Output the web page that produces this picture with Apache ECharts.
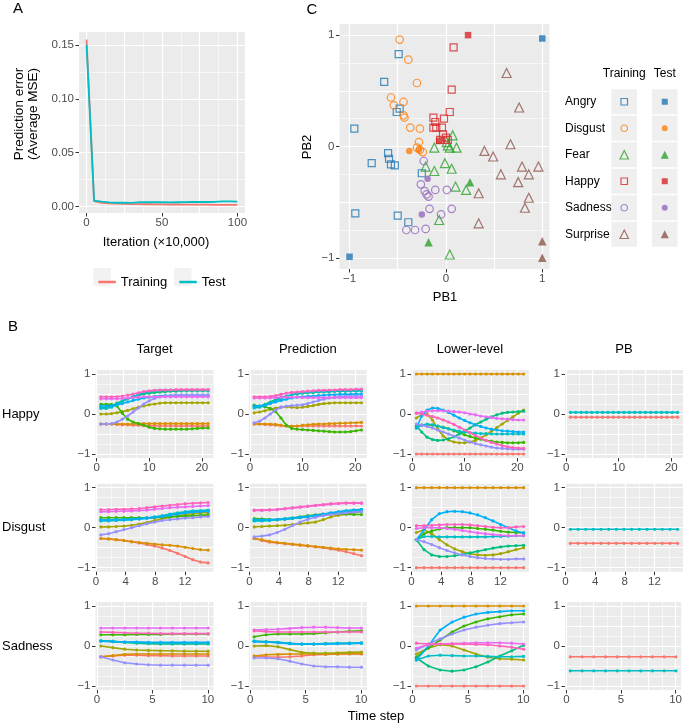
<!DOCTYPE html>
<html><head><meta charset="utf-8">
<script src="https://cdn.jsdelivr.net/npm/echarts@6/dist/echarts.min.js"></script>
<style>html,body{margin:0;padding:0;background:#fff}#c{width:685px;height:723px}</style>
</head><body><div id="c"></div><script>
// ---------------- Panel A data ----------------
const iterations = [0,5,10,15,20,25,30,35,40,45,50,55,60,65,70,75,80,85,90,95,100];
const mseTraining = [0.155,0.005,0.0035,0.003,0.0027,0.0025,0.0023,0.0022,0.0021,0.002,0.002,0.0019,0.0019,0.0018,0.0018,0.0017,0.0017,0.0016,0.0016,0.0016,0.0015];
const mseTest = [0.150,0.0055,0.0045,0.0038,0.0035,0.0035,0.0034,0.0040,0.0041,0.0040,0.0040,0.0039,0.0040,0.0041,0.0042,0.0042,0.0042,0.0043,0.0048,0.0047,0.0046];

// ---------------- Panel C data ----------------
const emotions = ['Angry','Disgust','Fear','Happy','Sadness','Surprise'];
const angryTrain = [[-0.49,0.83],[-0.64,0.58],[-0.48,0.34],[-0.51,0.31],[-0.95,0.16],[-0.6,-0.06],[-0.59,-0.11],[-0.57,-0.16],[-0.53,-0.17],[-0.77,-0.15],[-0.25,-0.24],[-0.94,-0.6],[-0.5,-0.62],[-0.39,-0.68]];
const angryTest = [[1.0,0.97],[-1.0,-0.99]];
const disgustTrain = [[-0.48,0.96],[-0.39,0.78],[-0.3,0.57],[-0.57,0.44],[-0.44,0.4],[-0.54,0.37],[-0.44,0.28],[-0.43,0.26],[-0.37,0.17],[-0.27,0.16],[-0.28,0.04],[-0.3,-0.01],[-0.27,-0.03],[-0.24,-0.05]];
const disgustTest = [[-0.38,-0.04],[-0.28,-0.03]];
const fearTrain = [[0.07,0.1],[-0.12,-0.01],[0.02,0.01],[0.04,-0.01],[0.11,-0.01],[0.01,0.04],[-0.01,-0.15],[0.06,-0.2],[-0.21,-0.18],[-0.12,-0.22],[0.1,-0.36],[0.21,-0.39],[-0.07,-0.66],[0.04,-0.97]];
const fearTest = [[0.25,-0.32],[-0.18,-0.86]];
const happyTrain = [[0.08,0.89],[0.06,0.51],[0.04,0.31],[-0.02,0.25],[-0.13,0.26],[-0.11,0.22],[-0.13,0.17],[-0.1,0.17],[-0.04,0.17],[-0.03,0.11],[0.0,0.08],[-0.06,0.06],[0.02,0.06]];
const happyTest = [[0.23,1.0],[-0.07,0.05]];
const sadnessTrain = [[-0.23,-0.13],[-0.26,-0.34],[-0.22,-0.4],[-0.2,-0.43],[-0.18,-0.45],[-0.11,-0.39],[0.01,-0.39],[-0.17,-0.56],[-0.05,-0.61],[0.06,-0.56],[-0.41,-0.75],[-0.32,-0.75],[-0.21,-0.74]];
const sadnessTest = [[-0.19,-0.29],[-0.25,-0.61]];
const surpriseTrain = [[0.63,0.66],[0.76,0.35],[0.67,0.02],[0.4,-0.04],[0.49,-0.09],[0.57,-0.25],[0.79,-0.18],[0.86,-0.25],[0.96,-0.18],[0.75,-0.32],[0.34,-0.42],[0.86,-0.46],[0.82,-0.55],[0.34,-0.69]];
const surpriseTest = [[1.0,-0.85],[1.0,-1.0]];

// ---------------- Panel B data ----------------
const rowNames = ['Happy','Disgust','Sadness'];
const colNames = ['Target','Prediction','Lower-level','PB'];
const happySteps = [0.8,1.82,2.84,3.86,4.88,5.9,6.92,7.94,8.96,9.98,11,12.02,13.04,14.06,15.08,16.1,17.12,18.14,19.16,20.18,21.2];
const disgustSteps = [0.65,1.69,2.72,3.76,4.79,5.83,6.86,7.9,8.93,9.97,11,12.04,13.07,14.11,15.14];
const sadnessSteps = [0.35,1.43,2.5,3.58,4.65,5.73,6.8,7.88,8.95,10.03];

// order of dims: red, orange, olive, green, teal, cyan, blue, periwinkle, magenta, pink
const happyTarget = [
 [-0.25,-0.25,-0.25,-0.26,-0.27,-0.27,-0.28,-0.28,-0.29,-0.29,-0.3,-0.3,-0.3,-0.3,-0.3,-0.3,-0.3,-0.3,-0.3,-0.3,-0.3],
 [-0.25,-0.25,-0.25,-0.25,-0.25,-0.25,-0.25,-0.24,-0.24,-0.24,-0.24,-0.24,-0.24,-0.24,-0.24,-0.24,-0.24,-0.24,-0.24,-0.24,-0.24],
 [0,0,0.01,0.03,0.06,0.09,0.13,0.17,0.2,0.23,0.25,0.27,0.28,0.28,0.28,0.28,0.28,0.28,0.28,0.28,0.28],
 [0.24,0.24,0.24,0.2,0.02,-0.13,-0.2,-0.24,-0.28,-0.33,-0.36,-0.37,-0.38,-0.38,-0.38,-0.38,-0.38,-0.37,-0.36,-0.35,-0.35],
 [0.16,0.16,0.2,0.27,0.33,0.38,0.43,0.47,0.5,0.52,0.54,0.55,0.56,0.57,0.57,0.58,0.58,0.58,0.58,0.58,0.58],
 [0.14,0.14,0.17,0.24,0.31,0.38,0.44,0.49,0.53,0.56,0.58,0.59,0.6,0.6,0.6,0.6,0.6,0.6,0.6,0.6,0.6],
 [0.2,0.2,0.21,0.23,0.26,0.3,0.34,0.37,0.4,0.42,0.44,0.45,0.46,0.46,0.47,0.47,0.47,0.47,0.47,0.47,0.47],
 [-0.25,-0.25,-0.24,-0.2,-0.13,-0.05,0.05,0.15,0.25,0.33,0.39,0.43,0.45,0.46,0.47,0.47,0.47,0.47,0.47,0.47,0.47],
 [0.38,0.38,0.38,0.38,0.39,0.4,0.41,0.42,0.43,0.43,0.43,0.43,0.43,0.43,0.43,0.43,0.43,0.43,0.43,0.43,0.43],
 [0.43,0.43,0.43,0.43,0.45,0.47,0.5,0.53,0.56,0.58,0.59,0.6,0.6,0.6,0.61,0.61,0.61,0.61,0.61,0.61,0.61]
];
const happyPrediction = [
 [-0.25,-0.25,-0.26,-0.27,-0.28,-0.29,-0.3,-0.3,-0.3,-0.3,-0.3,-0.3,-0.3,-0.3,-0.3,-0.3,-0.3,-0.3,-0.3,-0.3,-0.3],
 [-0.25,-0.25,-0.25,-0.25,-0.26,-0.28,-0.3,-0.31,-0.3,-0.28,-0.27,-0.26,-0.25,-0.25,-0.24,-0.24,-0.23,-0.23,-0.22,-0.22,-0.21],
 [0.03,0.05,0.08,0.12,0.15,0.17,0.18,0.17,0.16,0.17,0.19,0.21,0.24,0.26,0.27,0.28,0.28,0.28,0.28,0.28,0.28],
 [0.22,0.2,0.18,0.14,0.06,-0.1,-0.28,-0.36,-0.38,-0.39,-0.4,-0.41,-0.42,-0.43,-0.44,-0.45,-0.45,-0.45,-0.44,-0.42,-0.4],
 [0.18,0.2,0.24,0.3,0.36,0.41,0.45,0.48,0.5,0.52,0.53,0.54,0.55,0.56,0.56,0.57,0.57,0.57,0.58,0.58,0.58],
 [0.15,0.17,0.21,0.27,0.33,0.39,0.44,0.48,0.51,0.53,0.54,0.55,0.56,0.56,0.57,0.57,0.58,0.58,0.58,0.58,0.58],
 [0.2,0.2,0.22,0.26,0.3,0.34,0.37,0.4,0.42,0.43,0.44,0.45,0.46,0.47,0.48,0.48,0.49,0.49,0.49,0.5,0.5],
 [-0.22,-0.18,-0.1,0,0.1,0.17,0.2,0.21,0.22,0.23,0.26,0.3,0.34,0.37,0.4,0.42,0.43,0.44,0.45,0.45,0.45],
 [0.4,0.4,0.4,0.4,0.41,0.42,0.42,0.42,0.42,0.41,0.41,0.41,0.41,0.41,0.41,0.41,0.41,0.41,0.41,0.41,0.41],
 [0.43,0.43,0.43,0.44,0.46,0.49,0.52,0.54,0.55,0.56,0.57,0.58,0.59,0.59,0.6,0.6,0.61,0.61,0.61,0.62,0.62]
];
const happyLower = [
 [-1,-1,-1,-1,-1,-1,-1,-1,-1,-1,-1,-1,-1,-1,-1,-1,-1,-1,-1,-1,-1],
 [1,1,1,1,1,1,1,1,1,1,1,1,1,1,1,1,1,1,1,1,1],
 [-0.1,-0.02,0,-0.15,-0.38,-0.55,-0.65,-0.7,-0.72,-0.72,-0.7,-0.66,-0.6,-0.52,-0.43,-0.34,-0.25,-0.16,-0.07,0.02,0.1],
 [-0.3,-0.28,-0.27,-0.28,-0.3,-0.33,-0.37,-0.42,-0.47,-0.52,-0.56,-0.6,-0.63,-0.66,-0.68,-0.7,-0.71,-0.72,-0.72,-0.72,-0.71],
 [-0.3,-0.45,-0.58,-0.64,-0.66,-0.65,-0.62,-0.57,-0.5,-0.43,-0.35,-0.27,-0.2,-0.13,-0.07,-0.02,0.02,0.04,0.05,0.06,0.07],
 [-0.35,-0.28,-0.25,-0.27,-0.3,-0.34,-0.37,-0.4,-0.43,-0.45,-0.47,-0.48,-0.49,-0.49,-0.5,-0.5,-0.5,-0.5,-0.5,-0.5,-0.5],
 [-0.35,-0.05,0.1,0.15,0.14,0.1,0.04,-0.03,-0.1,-0.16,-0.22,-0.27,-0.31,-0.35,-0.38,-0.4,-0.42,-0.43,-0.44,-0.45,-0.45],
 [-0.25,-0.28,-0.31,-0.35,-0.4,-0.45,-0.5,-0.55,-0.6,-0.65,-0.7,-0.74,-0.77,-0.8,-0.83,-0.85,-0.86,-0.87,-0.88,-0.88,-0.88],
 [0.02,0.05,0.07,0.08,0.08,0.08,0.07,0.06,0.05,0.03,0,-0.02,-0.05,-0.07,-0.09,-0.11,-0.12,-0.13,-0.14,-0.15,-0.15],
 [0.02,0,-0.03,-0.06,-0.1,-0.15,-0.2,-0.26,-0.33,-0.4,-0.47,-0.54,-0.6,-0.66,-0.71,-0.75,-0.79,-0.82,-0.84,-0.85,-0.86]
];
const happyPB = [
 [-0.08,-0.08,-0.08,-0.08,-0.08,-0.08,-0.08,-0.08,-0.08,-0.08,-0.08,-0.08,-0.08,-0.08,-0.08,-0.08,-0.08,-0.08,-0.08,-0.08,-0.08],
 [0.04,0.04,0.04,0.04,0.04,0.04,0.04,0.04,0.04,0.04,0.04,0.04,0.04,0.04,0.04,0.04,0.04,0.04,0.04,0.04,0.04]
];
const disgustTarget = [
 [-0.27,-0.28,-0.3,-0.32,-0.35,-0.38,-0.42,-0.46,-0.51,-0.57,-0.64,-0.72,-0.8,-0.86,-0.88],
 [-0.27,-0.28,-0.3,-0.32,-0.35,-0.37,-0.39,-0.41,-0.43,-0.44,-0.46,-0.49,-0.52,-0.55,-0.56],
 [0.02,0.02,0.03,0.04,0.06,0.09,0.13,0.18,0.22,0.26,0.3,0.33,0.35,0.37,0.38],
 [0.25,0.25,0.25,0.25,0.25,0.25,0.25,0.25,0.26,0.27,0.28,0.29,0.3,0.31,0.32],
 [0.2,0.2,0.2,0.21,0.22,0.23,0.24,0.26,0.29,0.32,0.35,0.38,0.4,0.41,0.42],
 [0.17,0.17,0.18,0.19,0.2,0.22,0.24,0.27,0.3,0.34,0.37,0.4,0.42,0.43,0.44],
 [0.19,0.19,0.2,0.2,0.21,0.22,0.24,0.26,0.28,0.31,0.34,0.37,0.39,0.4,0.41],
 [-0.18,-0.15,-0.1,-0.05,0,0.05,0.1,0.14,0.18,0.2,0.22,0.24,0.25,0.27,0.28],
 [0.4,0.4,0.41,0.41,0.42,0.43,0.44,0.46,0.48,0.5,0.51,0.52,0.53,0.54,0.55],
 [0.45,0.45,0.46,0.46,0.47,0.48,0.5,0.52,0.54,0.56,0.58,0.6,0.61,0.62,0.63]
];
const disgustPrediction = [
 [-0.27,-0.32,-0.36,-0.38,-0.4,-0.42,-0.44,-0.46,-0.48,-0.5,-0.53,-0.56,-0.6,-0.65,-0.7],
 [-0.27,-0.3,-0.34,-0.37,-0.39,-0.41,-0.43,-0.45,-0.47,-0.49,-0.51,-0.53,-0.54,-0.55,-0.56],
 [0.02,0.03,0.04,0.05,0.06,0.08,0.1,0.12,0.14,0.2,0.27,0.31,0.34,0.37,0.4],
 [0.23,0.22,0.21,0.2,0.22,0.24,0.27,0.3,0.32,0.34,0.35,0.35,0.34,0.33,0.33],
 [0.18,0.18,0.19,0.2,0.22,0.24,0.26,0.28,0.3,0.33,0.36,0.38,0.4,0.41,0.42],
 [0.17,0.17,0.18,0.2,0.21,0.23,0.25,0.27,0.3,0.33,0.36,0.39,0.42,0.44,0.46],
 [0.2,0.2,0.2,0.21,0.22,0.24,0.26,0.28,0.31,0.34,0.37,0.4,0.42,0.44,0.45],
 [-0.23,-0.21,-0.18,-0.12,-0.04,0.05,0.14,0.21,0.26,0.3,0.33,0.35,0.37,0.39,0.4],
 [0.43,0.43,0.44,0.45,0.47,0.49,0.51,0.53,0.55,0.57,0.59,0.6,0.61,0.61,0.61],
 [0.44,0.44,0.45,0.46,0.48,0.5,0.52,0.54,0.56,0.58,0.6,0.61,0.62,0.62,0.62]
];
const disgustLower = [
 [-1,-1,-1,-1,-1,-1,-1,-1,-1,-1,-1,-1,-1,-1,-1],
 [1,1,1,1,1,1,1,1,1,1,1,1,1,1,1],
 [-0.12,-0.05,-0.15,-0.3,-0.43,-0.53,-0.6,-0.65,-0.68,-0.69,-0.68,-0.65,-0.6,-0.55,-0.5],
 [-0.3,-0.15,-0.08,-0.03,0,0,0,0,-0.02,-0.04,-0.06,-0.09,-0.11,-0.12,-0.13],
 [-0.3,-0.55,-0.68,-0.72,-0.72,-0.7,-0.67,-0.63,-0.59,-0.55,-0.51,-0.48,-0.46,-0.45,-0.44],
 [-0.3,-0.22,-0.22,-0.23,-0.23,-0.23,-0.23,-0.23,-0.23,-0.23,-0.22,-0.22,-0.21,-0.2,-0.2],
 [-0.3,-0.05,0.2,0.35,0.4,0.41,0.4,0.37,0.32,0.25,0.17,0.08,0,-0.08,-0.13],
 [-0.3,-0.35,-0.42,-0.5,-0.57,-0.63,-0.68,-0.72,-0.75,-0.77,-0.78,-0.79,-0.79,-0.78,-0.78],
 [-0.02,0,0,0,-0.02,-0.04,-0.07,-0.1,-0.13,-0.15,-0.17,-0.19,-0.2,-0.2,-0.2],
 [0.05,0.05,0.06,0.07,0.08,0.08,0.08,0.07,0.05,0.03,0.01,0,0,0.02,0.03]
];
const disgustPB = [
 [-0.39,-0.39,-0.39,-0.39,-0.39,-0.39,-0.39,-0.39,-0.39,-0.39,-0.39,-0.39,-0.39,-0.39,-0.39],
 [-0.04,-0.04,-0.04,-0.04,-0.04,-0.04,-0.04,-0.04,-0.04,-0.04,-0.04,-0.04,-0.04,-0.04,-0.04]
];
const sadnessTarget = [
 [-0.27,-0.25,-0.23,-0.23,-0.24,-0.24,-0.25,-0.25,-0.25,-0.25],
 [-0.27,-0.24,-0.21,-0.2,-0.2,-0.2,-0.2,-0.2,-0.2,-0.2],
 [0,-0.04,-0.08,-0.1,-0.11,-0.12,-0.12,-0.13,-0.13,-0.13],
 [0.28,0.28,0.28,0.29,0.29,0.29,0.3,0.3,0.3,0.3],
 [0.13,0.11,0.09,0.07,0.06,0.05,0.05,0.05,0.05,0.05],
 [0.13,0.12,0.1,0.09,0.08,0.08,0.07,0.07,0.07,0.07],
 [0.12,0.11,0.1,0.1,0.09,0.09,0.09,0.09,0.09,0.09],
 [-0.27,-0.35,-0.42,-0.45,-0.47,-0.48,-0.48,-0.48,-0.48,-0.48],
 [0.45,0.45,0.45,0.45,0.45,0.45,0.45,0.45,0.45,0.45],
 [0.35,0.34,0.33,0.32,0.32,0.31,0.31,0.31,0.31,0.31]
];
const sadnessPrediction = [
 [-0.25,-0.27,-0.28,-0.27,-0.25,-0.22,-0.21,-0.2,-0.2,-0.2],
 [-0.25,-0.22,-0.21,-0.2,-0.2,-0.2,-0.2,-0.2,-0.19,-0.19],
 [0,0.01,-0.02,-0.09,-0.16,-0.18,-0.18,-0.17,-0.16,-0.15],
 [0.23,0.28,0.3,0.3,0.3,0.31,0.33,0.35,0.37,0.38],
 [0.12,0.11,0.09,0.06,0.05,0.05,0.06,0.06,0.07,0.07],
 [0.12,0.1,0.09,0.07,0.05,0.05,0.06,0.07,0.07,0.08],
 [0.11,0.1,0.08,0.06,0.05,0.05,0.05,0.06,0.06,0.07],
 [-0.3,-0.3,-0.32,-0.38,-0.45,-0.5,-0.52,-0.52,-0.53,-0.53],
 [0.4,0.41,0.42,0.44,0.46,0.47,0.47,0.46,0.45,0.45],
 [0.38,0.36,0.35,0.35,0.35,0.35,0.35,0.35,0.35,0.35]
];
const sadnessLower = [
 [-1,-1,-1,-1,-1,-1,-1,-1,-1,-1],
 [1,1,1,1,1,1,1,1,1,1],
 [-0.2,-0.05,0.03,0,-0.1,-0.2,-0.28,-0.32,-0.33,-0.35],
 [-0.28,-0.05,0.15,0.35,0.5,0.6,0.68,0.73,0.78,0.8],
 [-0.3,-0.5,-0.6,-0.63,-0.6,-0.52,-0.4,-0.25,-0.12,0.02],
 [-0.35,-0.25,-0.23,-0.24,-0.25,-0.25,-0.26,-0.27,-0.27,-0.26],
 [-0.35,0,0.4,0.6,0.72,0.8,0.84,0.86,0.88,0.88],
 [-0.1,0.05,0.18,0.3,0.4,0.47,0.52,0.56,0.58,0.6],
 [-0.05,0.03,0.05,0.06,0.07,0.08,0.08,0.08,0.07,0.05],
 [0.07,0.05,0.05,0.05,0.05,0.04,0.03,0,-0.03,-0.08]
];
const sadnessPB = [
 [-0.27,-0.27,-0.27,-0.27,-0.27,-0.27,-0.27,-0.27,-0.27,-0.27],
 [-0.62,-0.62,-0.62,-0.62,-0.62,-0.62,-0.62,-0.62,-0.62,-0.62]
];

// ---------------- styling ----------------
const PAL10 = ['#F8766D','#D89000','#A3A500','#39B600','#00BF7D','#00BFC4','#00B0F6','#9590FF','#E76BF3','#FF62BC'];
const PAL2 = ['#F8766D','#00BFC4'];
const EMO_COL = ['#1F77B4','#FF7F0E','#2CA02C','#D62728','#9467BD','#8C564B'];
const EMO_SYM = ['rect','circle','triangle','rect','circle','triangle'];
const FONT = 'Liberation Sans';
const TICK_FS = 11.5;

const grids = [], xAxes = [], yAxes = [], series = [];
function fmtNum(v){ const s = String(Math.abs(Math.round(v*1000)/1000)); return (v < 0 ? '\u2212' : '') + s; }

function gridAxis(gi, s, vals, w, isX) {
  return { type:'value', gridIndex:gi, min:s.min, max:s.max, position: isX?'bottom':'left',
    axisLine:{show:false, onZero:false}, axisTick:{show:false, customValues: vals},
    axisLabel:{show:false}, splitLine:{show:true, lineStyle:{color:'#FFFFFF', width:w}} };
}
function labelAxis(gi, s, isX) {
  return { type:'value', gridIndex:gi, min:s.min, max:s.max, position: isX?'bottom':'left',
    axisLine:{show:false, onZero:false},
    axisTick:{show:true, customValues:s.labels, length:3.5, lineStyle:{color:'#333333', width:1}},
    axisLabel:{show:true, customValues:s.labels, formatter:s.fmt || fmtNum, margin: isX?4:5,
      fontSize:TICK_FS, color:'#4D4D4D', fontFamily:FONT},
    splitLine:{show:false} };
}
function addPanel(rect, xs, ys) {
  const gi = grids.length;
  grids.push({left:rect[0], top:rect[1], width:rect[2], height:rect[3], show:true,
    backgroundColor:'#EBEBEB', borderWidth:0});
  xAxes.push(gridAxis(gi, xs, xs.minors, 0.6, true));
  xAxes.push(gridAxis(gi, xs, xs.majors, 1.2, true));
  xAxes.push(labelAxis(gi, xs, true));
  yAxes.push(gridAxis(gi, ys, ys.minors, 0.6, false));
  yAxes.push(gridAxis(gi, ys, ys.majors, 1.2, false));
  yAxes.push(labelAxis(gi, ys, false));
  return {xi: xAxes.length-1, yi: yAxes.length-1};
}

// ---------------- Panel A ----------------
const pA = addPanel([79,32,166,181],
  {min:-5, max:105, labels:[0,50,100], majors:[0,25,50,75,100], minors:[12.5,37.5,62.5,87.5]},
  {min:-0.006, max:0.162, labels:[0,0.05,0.1,0.15], majors:[0,0.05,0.1,0.15], minors:[0.025,0.075,0.125],
   fmt: v => v.toFixed(2)});
[['Training', mseTraining, PAL2[0]], ['Test', mseTest, PAL2[1]]].forEach(([nm, vals, col]) => {
  series.push({type:'line', name:nm, xAxisIndex:pA.xi, yAxisIndex:pA.yi,
    data: iterations.map((it,i)=>[it, vals[i]]), showSymbol:false, symbol:'none',
    lineStyle:{color:col, width:1.8}, itemStyle:{color:col}});
});

// ---------------- Panel C ----------------
const pC = addPanel([339.5,24,210,245],
  {min:-1.104, max:1.075, labels:[-1,0,1], majors:[-1,-0.5,0,0.5,1], minors:[]},
  {min:-1.1, max:1.1, labels:[-1,0,1], majors:[-1,-0.5,0,0.5,1], minors:[-0.75,-0.25,0.25,0.75]});
const trainSets = [angryTrain, disgustTrain, fearTrain, happyTrain, sadnessTrain, surpriseTrain];
const testSets = [angryTest, disgustTest, fearTest, happyTest, sadnessTest, surpriseTest];
const openSize = {rect:7, circle:7.5, triangle:9};
const fillSize = {rect:6.5, circle:6.5, triangle:8.5};
emotions.forEach((e, i) => {
  const sym = EMO_SYM[i];
  series.push({type:'scatter', name:e+' (training)', xAxisIndex:pC.xi, yAxisIndex:pC.yi,
    data: trainSets[i], symbol:sym, symbolSize: openSize[sym],
    itemStyle:{color:'rgba(0,0,0,0)', borderColor:EMO_COL[i], borderWidth:1.2}});
});
emotions.forEach((e, i) => {
  const sym = EMO_SYM[i];
  series.push({type:'scatter', name:e+' (test)', xAxisIndex:pC.xi, yAxisIndex:pC.yi,
    data: testSets[i], symbol:sym, symbolSize: fillSize[sym],
    itemStyle:{color:EMO_COL[i]}});
});

// legend table of panel C (category grid)
const lgGrid = grids.length;
grids.push({left:604, top:88.5, width:88, height:159, show:false});
const lgX = xAxes.length;
xAxes.push({type:'category', gridIndex:lgGrid, data:['Training','Test'], position:'top',
  axisLine:{show:false}, axisTick:{show:false}, splitLine:{show:false},
  axisLabel:{interval:0, hideOverlap:false, fontSize:12, color:'#000', margin:9, fontFamily:FONT}});
const lgY = yAxes.length;
yAxes.push({type:'category', gridIndex:lgGrid, data:emotions, inverse:true,
  axisLine:{show:false}, axisTick:{show:false}, splitLine:{show:false},
  axisLabel:{interval:0, fontSize:12, color:'#000', margin:39, align:'left', fontFamily:FONT}});
const tiles = [];
emotions.forEach((e,i)=>{ tiles.push([0,i]); tiles.push([1,i]); });
series.push({type:'scatter', xAxisIndex:lgX, yAxisIndex:lgY, data:tiles, symbol:'rect',
  symbolSize:[25.7,25], itemStyle:{color:'#EBEBEB'}, silent:true, z:1});
emotions.forEach((e,i)=>{
  const sym = EMO_SYM[i];
  series.push({type:'scatter', xAxisIndex:lgX, yAxisIndex:lgY, data:[[0,i]], symbol:sym,
    symbolSize: sym==='triangle'?8.5:6.5, z:3,
    itemStyle:{color:'rgba(0,0,0,0)', borderColor:EMO_COL[i], borderWidth:1.2}});
  series.push({type:'scatter', xAxisIndex:lgX, yAxisIndex:lgY, data:[[1,i]], symbol:sym,
    symbolSize: sym==='triangle'?8:6, z:3, itemStyle:{color:EMO_COL[i]}});
});

// ---------------- Panel B ----------------
const colLefts = [95.5, 248.8, 411, 565];
const rowTops = [370, 483.7, 602];
const PW = 118, PH = 88;
const rowSteps = [happySteps, disgustSteps, sadnessSteps];
const rowX = [
  {labels:[0,10,20], majors:[0,5,10,15,20], minors:[2.5,7.5,12.5,17.5]},
  {labels:[0,4,8,12], majors:[0,4,8,12], minors:[2,6,10,14]},
  {labels:[0,5,10], majors:[0,2.5,5,7.5,10], minors:[1.25,3.75,6.25,8.75]}
];
const rowData = [
  [happyTarget, happyPrediction, happyLower, happyPB],
  [disgustTarget, disgustPrediction, disgustLower, disgustPB],
  [sadnessTarget, sadnessPrediction, sadnessLower, sadnessPB]
];
const yB = {min:-1.1, max:1.1, labels:[-1,0,1], majors:[-1,-0.5,0,0.5,1], minors:[-0.75,-0.25,0.25,0.75]};
rowData.forEach((cols, r) => {
  const st = rowSteps[r];
  const span = st[st.length-1] - st[0];
  const xs = Object.assign({min: st[0]-0.05*span, max: st[st.length-1]+0.05*span}, rowX[r]);
  cols.forEach((panel, c) => {
    const p = addPanel([colLefts[c], rowTops[r], PW, PH], xs, yB);
    const pal = panel.length === 2 ? PAL2 : PAL10;
    panel.forEach((vals, k) => {
      series.push({type:'line', xAxisIndex:p.xi, yAxisIndex:p.yi,
        data: st.map((t,i)=>[t, vals[i]]), symbol:'circle', symbolSize:3.2, showSymbol:true,
        lineStyle:{color:pal[k], width:1.6}, itemStyle:{color:pal[k]}, z:2+k*0.01});
    });
  });
});

// ---------------- texts ----------------
const T = (text, x, y, size, opts) => Object.assign({type:'text', x:x, y:y, silent:true,
  style:{text:text, fill:'#000', font: size+'px "'+FONT+'"', textAlign:'center', textVerticalAlign:'middle'}}, opts||{});
const graphics = [
  T('A', 18, 9, 15), T('C', 312, 10, 15), T('B', 13, 327, 15),
  T('Prediction error', 19, 114, 13.5, {rotation:Math.PI/2}),
  T('(Average MSE)', 33, 114, 13.5, {rotation:Math.PI/2}),
  T('Iteration (\u00d710,000)', 156, 242, 13),
  T('PB1', 445, 297, 13), T('PB2', 307, 147, 13, {rotation:Math.PI/2}),
  T('Time step', 376, 716, 13),
  {type:'rect', shape:{x:93.3, y:268, width:17.5, height:18}, style:{fill:'#F2F2F2'}, silent:true},
  {type:'rect', shape:{x:174, y:268, width:17.5, height:18}, style:{fill:'#F2F2F2'}, silent:true}
];
colNames.forEach((n,c)=>graphics.push(T(n, colLefts[c]+PW/2, 349, 13)));
rowNames.forEach((n,r)=>{ const g = T(n, 2, rowTops[r]+PH/2, 13); g.style.textAlign='left'; graphics.push(g); });

const chart = echarts.init(document.getElementById('c'), null, {renderer:'canvas'});
chart.setOption({
  animation:false,
  textStyle:{fontFamily:FONT},
  grid: grids, xAxis: xAxes, yAxis: yAxes, series: series,
  legend:{data:['Training','Test'], left:93.3, top:270.5, icon:'rect', itemWidth:17.5, itemHeight:2.5,
    itemGap:12, textStyle:{fontSize:13, color:'#000', fontFamily:FONT}, selectedMode:false},
  graphic: graphics
});
</script></body></html>
